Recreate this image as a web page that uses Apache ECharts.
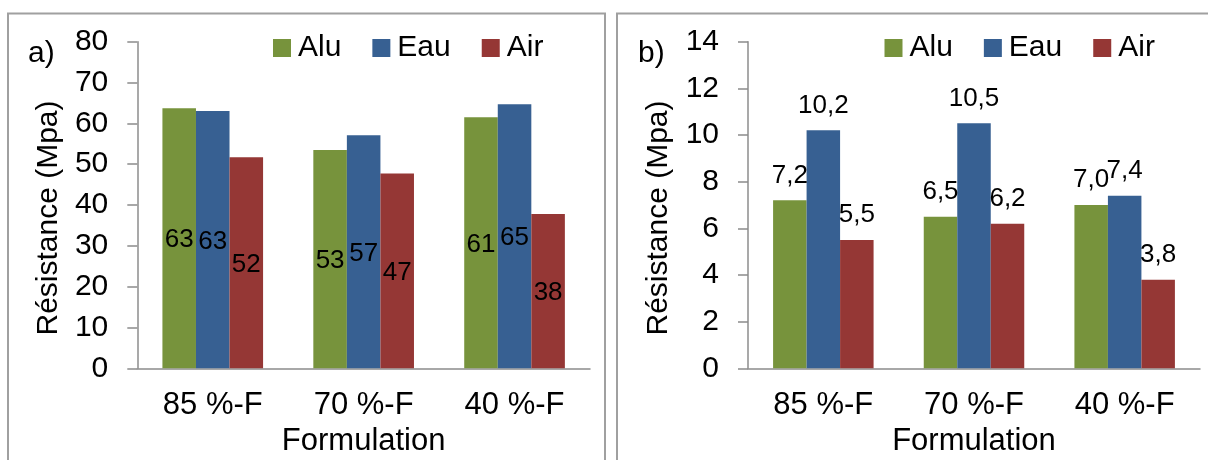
<!DOCTYPE html>
<html>
<head>
<meta charset="utf-8">
<script src="https://cdn.jsdelivr.net/npm/echarts@6/dist/echarts.min.js"></script>
<style>
html,body{margin:0;padding:0;background:#fff;}
#c{width:1208px;height:460px;}
</style>
</head>
<body>
<div id="c"></div>
<script>
// ---- data ----
const categories = ['85 %-F', '70 %-F', '40 %-F'];
const seriesNames = ['Alu', 'Eau', 'Air'];

// panel a) values (MPa)
const aAlu = [63.7, 53.5, 61.5];
const aEau = [63.0, 57.1, 64.7];
const aAir = [51.7, 47.7, 37.8];
// panel a) printed data labels
const aAluLabels = ['63', '53', '61'];
const aEauLabels = ['63', '57', '65'];
const aAirLabels = ['52', '47', '38'];

// panel b) values (MPa)
const bAlu = [7.2, 6.5, 7.0];
const bEau = [10.2, 10.5, 7.4];
const bAir = [5.5, 6.2, 3.8];

const colors = ['#77933C', '#376092', '#953735'];
const FONT = '"Liberation Sans", Arial, sans-serif';
const AXIS_COLOR = '#8c8c8c';

const chart = echarts.init(document.getElementById('c'), null, {renderer: 'canvas'});

function yAxis(gridIndex, max, interval) {
  return {
    type: 'value', gridIndex, min: 0, max, interval,
    name: 'Résistance (Mpa)', nameLocation: 'middle', nameRotate: 90, nameGap: 74,
    nameTextStyle: {fontFamily: FONT, fontSize: 30, color: '#000', padding: [0, 26, 0, 0]},
    axisLine: {show: true, lineStyle: {color: AXIS_COLOR, width: 1.5}},
    axisTick: {show: true, length: 10, lineStyle: {color: AXIS_COLOR, width: 1.5}},
    splitLine: {show: false},
    axisLabel: {fontFamily: FONT, fontSize: 30, color: '#000', margin: 29}
  };
}
function xAxis(gridIndex) {
  return {
    type: 'category', gridIndex, data: categories,
    name: 'Formulation', nameLocation: 'middle', nameGap: 55,
    nameTextStyle: {fontFamily: FONT, fontSize: 31, color: '#000'},
    axisLine: {show: true, lineStyle: {color: AXIS_COLOR, width: 1.5}},
    axisTick: {show: false},
    axisLabel: {fontFamily: FONT, fontSize: 31, color: '#000', margin: 22}
  };
}
function legend(left) {
  return {
    left, top: 33, padding: 0, itemWidth: 18, itemHeight: 18, itemGap: 31,
    icon: 'rect',
    textStyle: {fontFamily: FONT, fontSize: 30, color: '#000', padding: [0, 0, 0, 2]},
    data: seriesNames,
    selectedMode: false
  };
}

const aData = [aAlu, aEau, aAir];
const aLabels = [aAluLabels, aEauLabels, aAirLabels];
const bData = [bAlu, bEau, bAir];

const series = [];
seriesNames.forEach((n, i) => {
  series.push({
    name: n, type: 'bar', xAxisIndex: 0, yAxisIndex: 0,
    barGap: '0%', barCategoryGap: '33.3%',
    itemStyle: {color: colors[i]},
    data: aData[i].map((v, j) => ({value: v, label: {formatter: aLabels[i][j]}})),
    label: {show: true, position: 'inside', offset: [0, 2], fontFamily: FONT, fontSize: 26, color: '#000'}
  });
});
seriesNames.forEach((n, i) => {
  series.push({
    name: n, type: 'bar', xAxisIndex: 1, yAxisIndex: 1,
    barGap: '0%', barCategoryGap: '33.3%',
    itemStyle: {color: colors[i]},
    data: bData[i],
    label: {show: true, position: 'top', distance: 12, fontFamily: FONT, fontSize: 26, color: '#000',
      formatter: p => p.value.toFixed(1).replace('.', ',')}
  });
});

chart.setOption({
  backgroundColor: '#fff',
  animation: false,
  grid: [
    {left: 137.3, top: 41.7, width: 452.7, height: 326.6, containLabel: false, outerBoundsMode: 'none'},
    {left: 748, top: 41.7, width: 452, height: 326.6, containLabel: false, outerBoundsMode: 'none'}
  ],
  xAxis: [xAxis(0), xAxis(1)],
  yAxis: [yAxis(0, 80, 10), yAxis(1, 14, 2)],
  legend: [legend(273), legend(884.5)],
  series,
  graphic: [
    {type: 'rect', shape: {x: 8, y: 13.5, width: 597, height: 470}, style: {fill: 'none', stroke: '#a0a0a0', lineWidth: 2}, silent: true},
    {type: 'rect', shape: {x: 617, y: 13.5, width: 600, height: 470}, style: {fill: 'none', stroke: '#a0a0a0', lineWidth: 2}, silent: true},
    {type: 'text', left: 28, top: 39, style: {text: 'a)', font: '30px ' + FONT, fill: '#000'}},
    {type: 'text', left: 638, top: 39, style: {text: 'b)', font: '30px ' + FONT, fill: '#000'}}
  ]
});
</script>
</body>
</html>
